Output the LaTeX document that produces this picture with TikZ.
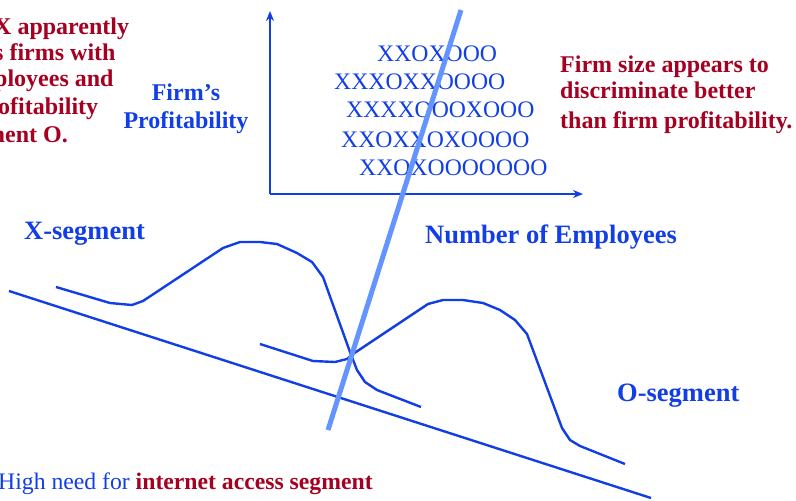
\documentclass[tikz,border=0pt]{standalone}
\usepackage{fontspec}
\setmainfont{Liberation Serif}
\usetikzlibrary{arrows.meta}
\definecolor{tblue}{RGB}{18,62,230}
\definecolor{tred}{RGB}{165,0,33}
\definecolor{lblue}{RGB}{100,148,255}
\begin{document}
\begin{tikzpicture}[x=1pt,y=-1pt,
  lbl/.style={inner sep=0pt,anchor=base west,font=\fontsize{24}{26}\selectfont\bfseries},
  bl/.style={lbl,text=tblue},
  big/.style={bl,font=\fontsize{26.5}{28}\selectfont\bfseries},
  rd/.style={lbl,text=tred},
  xo/.style={inner sep=0pt,anchor=base west,text=tblue,font=\fontsize{23.7}{25}\selectfont},
  crv/.style={draw=tblue,line width=2.4pt,line join=round},
  axis/.style={draw=tblue,line width=2.4pt,-{Stealth[length=10pt,width=8pt]}}]
\useasboundingbox (0,0) rectangle (796,501);
% left red text (cut off)
\node[rd] (l1) at (-6,34) {X apparently};
\node[rd] (l2) at (-6,60) {s firms with};
\node[rd] (l3) at (-6,86) {ployees and};
\node[rd] (l4) at (-2,114) {ofitability};
\node[rd] (l5) at (-15,142) {ment O.};
% right red text
\node[rd] (r1) at (560,72) {Firm size appears to};
\node[rd] (r2) at (560,98) {discriminate better};
\node[rd] (r3) at (560,128) {than firm profitability.};
% axis labels
\node[bl,anchor=base] (fp1) at (186,100) {Firm’s};
\node[bl,anchor=base] (fp2) at (186,128) {Profitability};
\node[big] (ne) at (425,243) {Number of Employees};
\node[big] (xs) at (24,239) {X-segment};
\node[big] (os) at (617,401) {O-segment};
% axes
\coordinate (org) at (270,194);
\coordinate (ytip) at (270,11);
\coordinate (xtip) at (583,194);
\draw[axis] (org) -- (ytip);
\draw[axis] (org) -- (xtip);
% X / O pattern
\node[xo] (p1) at (377,61) {XXOXOOO};
\node[xo] (p2) at (334,89) {XXXOXXOOOO};
\node[xo] (p3) at (346,117) {XXXXOOOXOOO};
\node[xo] (p4) at (341,147) {XXOXXOXOOOO};
\node[xo] (p5) at (359,175) {XXOXOOOOOOO};
% base line
\coordinate (b1) at (9,291);
\coordinate (b2) at (651,498);
\draw[crv] (b1) -- (b2);
% X-segment curve
\draw[crv] (56,287) -- (110,303) -- (132,305) -- (143,301) -- (223,248) -- (240,242)
  -- (260,242) -- (277,244) -- (297,253) -- (312,262) -- (323,277) -- (350,352)
  -- (357,370) -- (365,382) -- (377,390) -- (421,407);
% O-segment curve
\draw[crv] (260,344) -- (313,361) -- (335,362) -- (347,359) -- (353,354) -- (428,304)
  -- (443,300) -- (463,300) -- (483,303) -- (500,310) -- (515,320) -- (527,334)
  -- (562,428) -- (570,440) -- (580,446) -- (625,464);
% discriminating line
\coordinate (d1) at (461,10);
\coordinate (d2) at (328,430);
\draw[draw=lblue,line width=5pt] (d1) -- (d2);
% bottom text
\node[inner sep=0pt,anchor=base west,font=\fontsize{23.7}{25}\selectfont] (hn) at (-2,489)
  {\textcolor{tblue}{High need for }\textcolor{tred}{\bfseries internet access segment}};
\end{tikzpicture}
\end{document}
